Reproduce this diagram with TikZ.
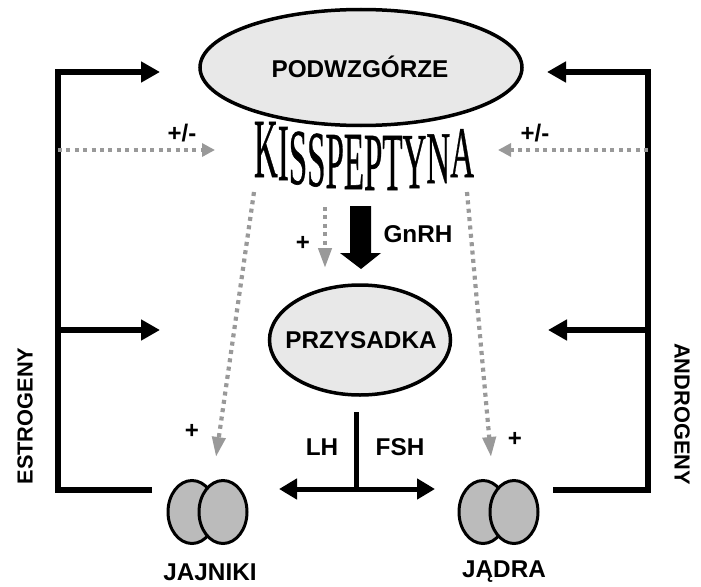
\documentclass[tikz,border=0pt]{standalone}
\usepackage{fontspec}
\usepackage{graphicx}
\setmainfont{Liberation Sans}
\newfontfamily\kissfont[FakeBold=0.8]{Liberation Serif}
\usetikzlibrary{arrows.meta,shapes.geometric}
\definecolor{hormgrey}{HTML}{999999}
\definecolor{organ}{HTML}{E8E8E8}
\definecolor{gonad}{HTML}{BBBBBB}
\newcommand\kl[3]{\raisebox{#2pt}{\scalebox{1}[#1]{#3}}}
\tikzset{
  every node/.style={inner sep=0pt,outer sep=0pt},
  lab/.style={font=\fontsize{24.3}{26}\selectfont\bfseries,anchor=center},
  smalllab/.style={font=\fontsize{21.8}{24}\selectfont\bfseries,anchor=center},
  sign/.style={font=\fontsize{24}{26}\selectfont\bfseries,anchor=center},
  organnode/.style={ellipse,draw=black,line width=3.5pt,fill=organ},
  gonadnode/.style={ellipse,draw=black,line width=3pt,fill=gonad,minimum width=48pt,minimum height=63pt},
  feedback/.style={line width=6pt,-{Triangle[length=19pt,width=20pt]}},
  plain/.style={line width=6pt,line join=miter},
  axis/.style={line width=5pt},
  axisarrow/.style={line width=5pt,-{Triangle[length=18pt,width=20pt]}},
  modul/.style={line width=4.2pt,hormgrey,dash pattern=on 4pt off 4.4pt,-{Triangle[length=20pt,width=13pt]}},
  modulh/.style={line width=4.2pt,hormgrey,dash pattern=on 4pt off 4.4pt,-{Triangle[length=13pt,width=13pt]}},
  release/.style={draw=none,fill=black}
}
\begin{document}
\begin{tikzpicture}[x=1pt,y=-1pt]
\useasboundingbox (0,0) rectangle (701,586);
% organs
\node[organnode,minimum width=322pt,minimum height=116pt] (hypo) at (361,67.5) {};
\node[lab] (hypolab) at (360,67) {PODWZGÓRZE};
\node[organnode,minimum width=181pt,minimum height=110pt] (pit) at (360,340) {};
\node[lab] (pitlab) at (361,340) {PRZYSADKA};
% warped title, one letter-scaled word
\node[anchor=base west,font=\kissfont\fontsize{33}{38}\selectfont] (kiss) at (254,190) {%
\kl{2.55}{13}{K}\kl{2.45}{10}{I}\kl{2.4}{6}{S}\kl{2.4}{4}{S}\kl{2.45}{2}{P}\kl{2.5}{1}{E}\kl{2.5}{0}{P}\kl{2.5}{0}{T}\kl{2.4}{2}{Y}\kl{2.25}{7}{N}\kl{2.2}{13}{A}};
% gonads
\node[gonadnode] (ovL) at (192,512) {};
\node[gonadnode] (ovR) at (223,512) {};
\node[gonadnode] (teL) at (483,512) {};
\node[gonadnode] (teR) at (514,512) {};
\node[lab] (jaj) at (210,572) {JAJNIKI};
\node[lab] (jad) at (504,572) {JĄDRA};
% coordinates
\coordinate (lt) at (58,72);
\coordinate (lb) at (58,490);
\coordinate (lm) at (58,330);
\coordinate (rt) at (648,72);
\coordinate (rb) at (648,490);
\coordinate (rm) at (648,330);
\coordinate (lthead) at (160,72);
\coordinate (rthead) at (547,72);
\coordinate (lmhead) at (160,330);
\coordinate (rmhead) at (548,330);
\coordinate (lbend) at (152,490);
\coordinate (rbend) at (553,490);
% feedback
\draw[plain] (lbend) -- (lb) -- (lt);
\draw[feedback] (lt) ++(-3,0) -- (lthead);
\draw[feedback] (lm) -- (lmhead);
\draw[plain] (rbend) -- (rb) -- (rt);
\draw[feedback] (rt) ++(3,0) -- (rthead);
\draw[feedback] (rm) -- (rmhead);
% dotted kisspeptin
\coordinate (dl0) at (58,150); \coordinate (dl1) at (215,150);
\coordinate (dr0) at (648,150); \coordinate (dr1) at (498,150);
\coordinate (k1) at (254,192); \coordinate (k1e) at (216,457);
\coordinate (k2) at (325,207); \coordinate (k2e) at (325,268);
\coordinate (k3) at (467,192); \coordinate (k3e) at (491,457);
\draw[modulh] (dl0) -- (dl1);
\draw[modulh] (dr0) -- (dr1);
\draw[modul] (k1) -- (k1e);
\draw[modul] (k2) -- (k2e);
\draw[modul] (k3) -- (k3e);
% GnRH block arrow
\fill[release] (350,206) -- (371,206) -- (371,253) -- (381,253) -- (361,269) -- (340,253) -- (350,253) -- cycle;
% LH / FSH
\coordinate (tt) at (356.5,412);
\coordinate (tb) at (356.5,489);
\coordinate (tl) at (279,489);
\coordinate (tr) at (435,489);
\draw[axis] (tt) -- (tb);
\draw[axisarrow] (tb) -- (tl);
\draw[axisarrow] (tb) -- (tr);
% labels
\node[lab] (gnrh) at (418,234) {GnRH};
\node[lab] (lh) at (322,447) {LH};
\node[lab] (fsh) at (400,447) {FSH};
\node[sign] (p1) at (303,243) {+};
\node[sign] (p2) at (192,431) {+};
\node[sign] (p3) at (515,439) {+};
\node[sign] (pm1) at (182,133) {+/-};
\node[sign] (pm2) at (535,133) {+/-};
\node[smalllab,rotate=90] (est) at (25,416) {ESTROGENY};
\node[smalllab,rotate=-90] (and) at (682,414) {ANDROGENY};
\end{tikzpicture}
\end{document}
